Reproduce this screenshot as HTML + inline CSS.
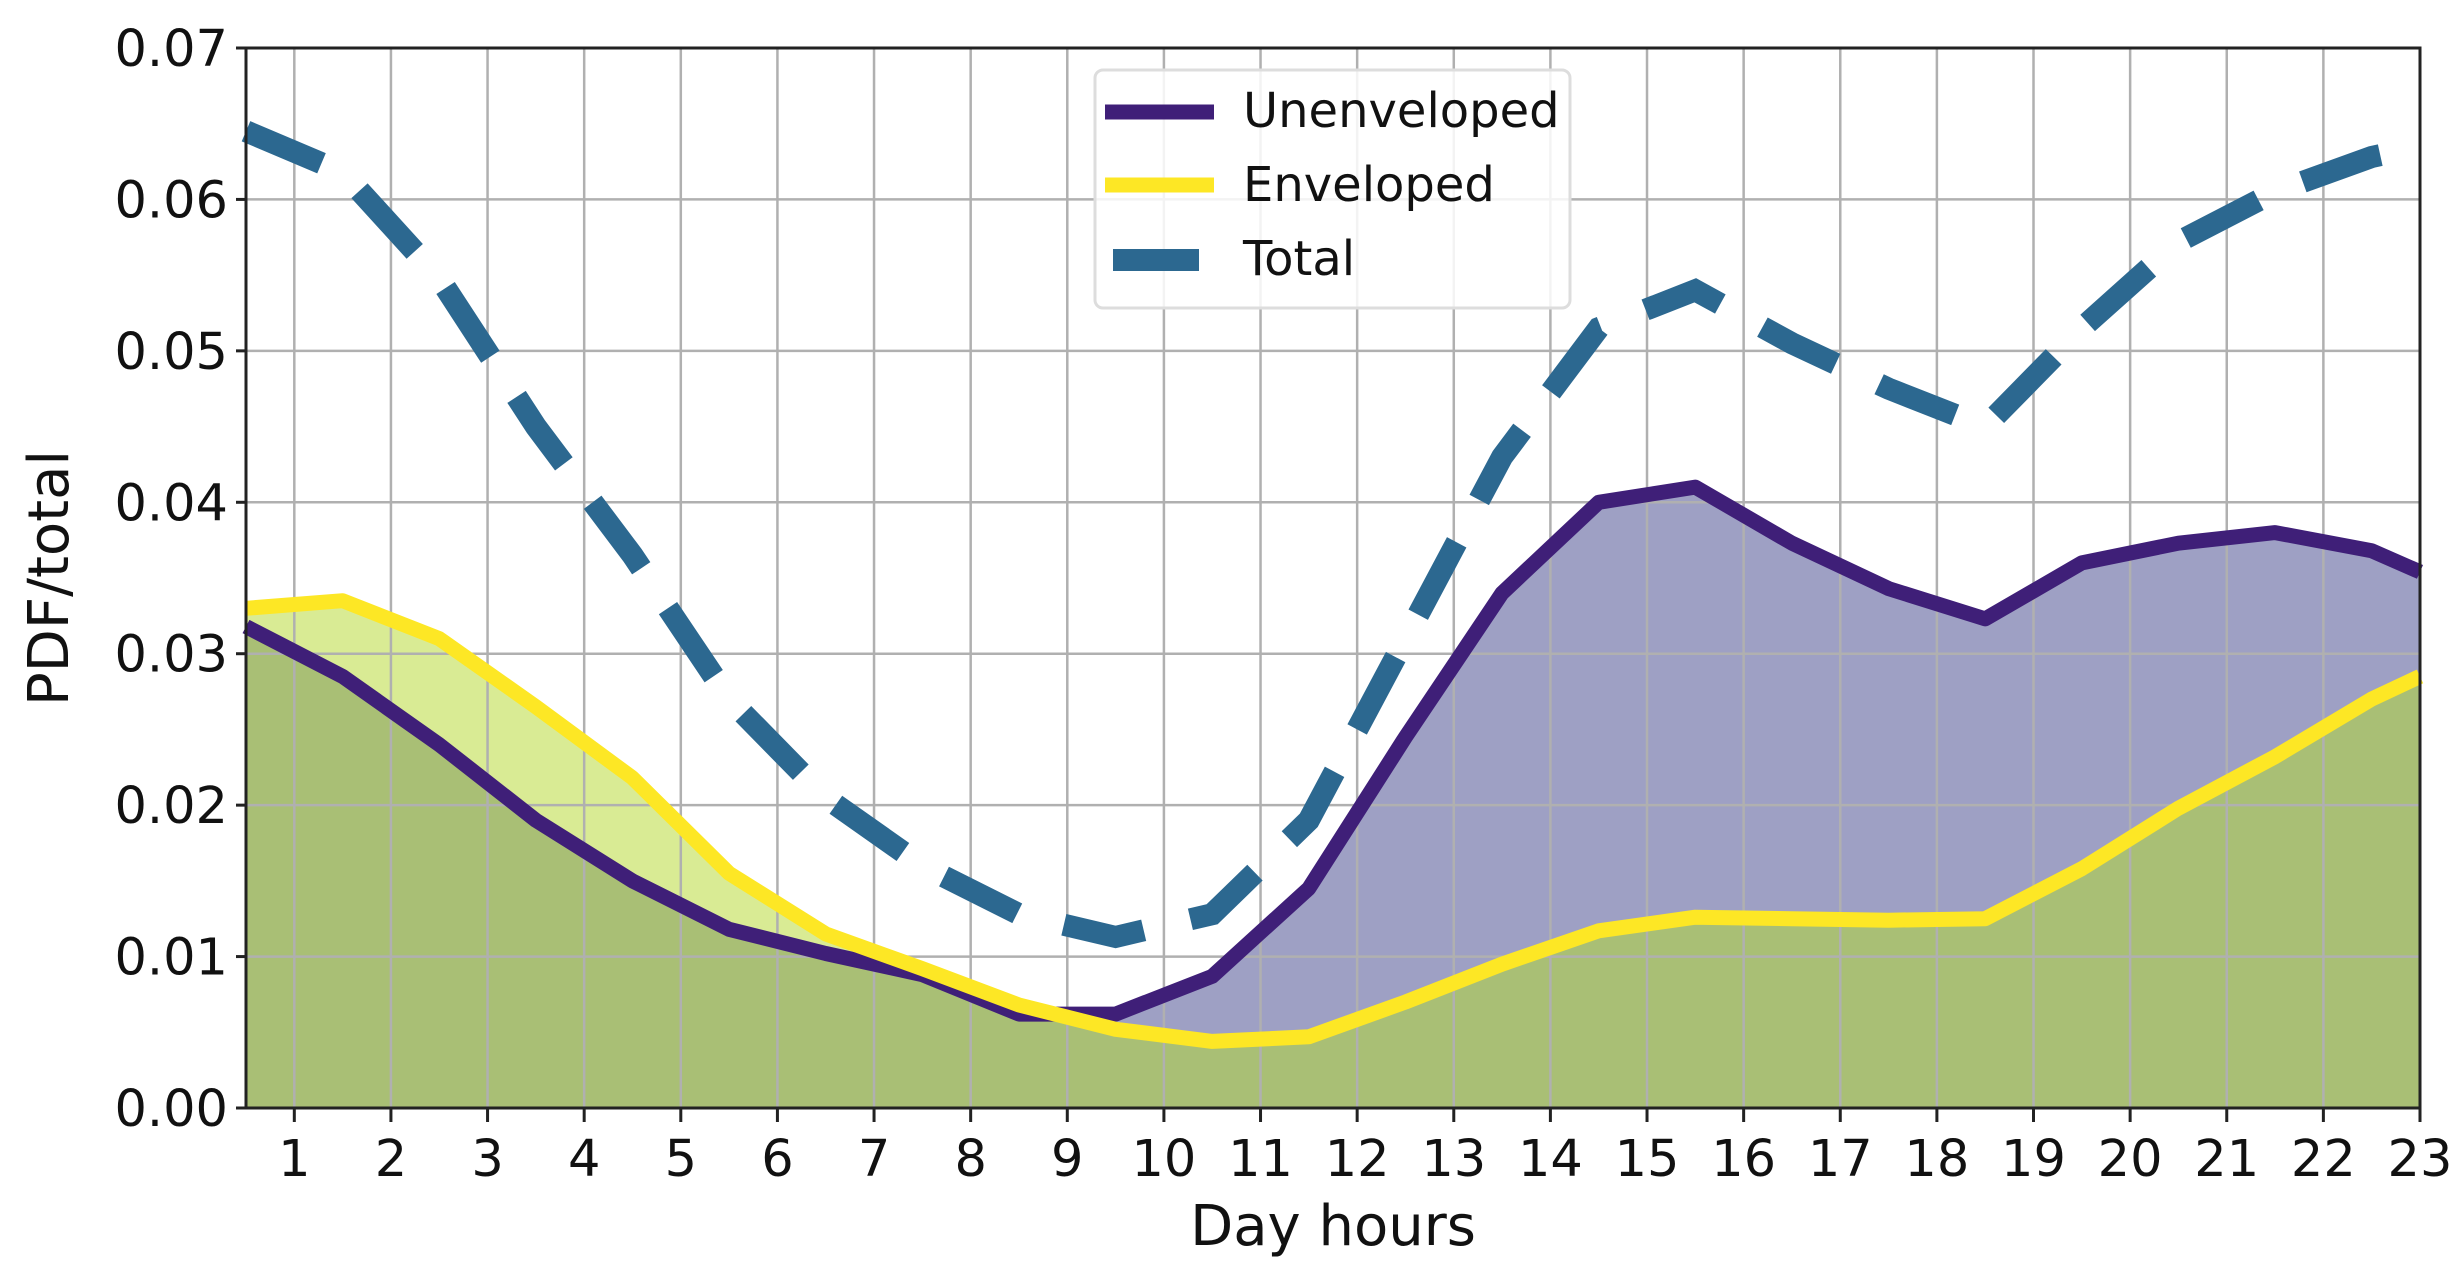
<!DOCTYPE html>
<html><head><meta charset="utf-8"><style>
html,body{margin:0;padding:0;background:#fff;}
svg{display:block;font-family:"DejaVu Sans","Liberation Sans",sans-serif;}
</style></head><body>
<svg id="s" width="2457" height="1275" xmlns="http://www.w3.org/2000/svg"></svg>
<script>
const L=246,R=2420,T=48,B=1108;
const X=h=>L+(h-0.5)*(R-L)/22.5, Y=v=>B-v*(B-T)/0.07;
const xs=[0.5,1.5,2.5,3.5,4.5,5.5,6.5,7.5,8.5,9.5,10.5,11.5,12.5,13.5,14.5,15.5,16.5,17.5,18.5,19.5,20.5,21.5,22.5,23];
const U=[0.0318,0.0285,0.024,0.019,0.015,0.0118,0.0102,0.0088,0.0062,0.0062,0.0087,0.0145,0.0245,0.034,0.040,0.041,0.0373,0.0343,0.0323,0.036,0.0373,0.038,0.0368,0.0354];
const E=[0.0330,0.0335,0.031,0.0265,0.0218,0.0155,0.0115,0.0092,0.0068,0.0052,0.0044,0.0047,0.007,0.0095,0.0117,0.0126,0.0125,0.0124,0.0125,0.0158,0.0198,0.0232,0.027,0.0285];
const Tt=[0.0645,0.0618,0.0548,0.045,0.0365,0.027,0.0205,0.016,0.0128,0.0113,0.0128,0.019,0.031,0.043,0.0515,0.054,0.0505,0.0475,0.045,0.0515,0.0572,0.0605,0.0628,0.0635];
const pts=a=>a.map((v,i)=>X(xs[i]).toFixed(1)+','+Y(v).toFixed(1)).join(' ');
const area=a=>`${X(0.5)},${B} ${pts(a)} ${X(23)},${B}`;
let mp=[];
for(let i=0;i<xs.length;i++){
  mp.push([xs[i],Math.min(U[i],E[i])]);
  if(i<xs.length-1){const d0=U[i]-E[i],d1=U[i+1]-E[i+1];
    if(d0*d1<0){const t=d0/(d0-d1);mp.push([xs[i]+t*(xs[i+1]-xs[i]),U[i]+t*(U[i+1]-U[i])]);}}
}
const minArea=`${X(0.5)},${B} `+mp.map(p=>X(p[0]).toFixed(1)+','+Y(p[1]).toFixed(1)).join(' ')+` ${X(23)},${B}`;
let s='';
s+=`<polygon points="${area(U)}" fill="#9ea0c4"/>`;
s+=`<polygon points="${area(E)}" fill="#d9eb94"/>`;
s+=`<polygon points="${minArea}" fill="#a9bf75"/>`;
for(let h=1;h<=22;h++) s+=`<line x1="${X(h)}" x2="${X(h)}" y1="${T}" y2="${B}" stroke="#b0b0b0" stroke-width="2.5"/>`;
for(let k=1;k<7;k++) s+=`<line x1="${L}" x2="${R}" y1="${Y(k/100)}" y2="${Y(k/100)}" stroke="#b0b0b0" stroke-width="2.5"/>`;
s+=`<polyline points="${pts(U)}" fill="none" stroke="#3f1f78" stroke-width="15" stroke-linejoin="round"/>`;
s+=`<polyline points="${pts(E)}" fill="none" stroke="#fde725" stroke-width="15" stroke-linejoin="round"/>`;
s+=`<polyline points="${pts(Tt)}" fill="none" stroke="#2c6890" stroke-width="22" stroke-dasharray="82,48"/>`;
s+=`<rect x="${L}" y="${T}" width="${R-L}" height="${B-T}" fill="none" stroke="#222" stroke-width="3"/>`;
for(let k=0;k<=7;k++){const y=Y(k/100);
  s+=`<line x1="${L-10}" x2="${L}" y1="${y}" y2="${y}" stroke="#222" stroke-width="3"/>`;
  s+=`<text x="${L-18}" y="${y+18}" font-size="51" text-anchor="end" fill="#111">${(k/100).toFixed(2)}</text>`;}
for(let h=1;h<=23;h++){const x=X(h);
  s+=`<line x1="${x}" x2="${x}" y1="${B}" y2="${B+14}" stroke="#222" stroke-width="3"/>`;
  s+=`<text x="${x}" y="${B+68}" font-size="51" text-anchor="middle" fill="#111">${h}</text>`;}
s+=`<text x="${(L+R)/2}" y="1245" font-size="56" text-anchor="middle" fill="#111">Day hours</text>`;
s+=`<text transform="translate(68,${(T+B)/2}) rotate(-90)" font-size="56" text-anchor="middle" fill="#111">PDF/total</text>`;
s+=`<rect x="1095" y="70" width="475" height="238" rx="8" fill="#fff" fill-opacity="0.85" stroke="#ddd" stroke-width="3"/>`;
s+=`<line x1="1105" x2="1214" y1="112" y2="112" stroke="#3f1f78" stroke-width="15"/>`;
s+=`<line x1="1105" x2="1214" y1="185" y2="185" stroke="#fde725" stroke-width="15"/>`;
s+=`<line x1="1113" x2="1199" y1="260" y2="260" stroke="#2c6890" stroke-width="22"/>`;
s+=`<text x="1243" y="127" font-size="48" fill="#111">Unenveloped</text>`;
s+=`<text x="1243" y="201" font-size="48" fill="#111">Enveloped</text>`;
s+=`<text x="1243" y="275" font-size="48" fill="#111">Total</text>`;
document.getElementById('s').innerHTML=s;
</script>
</body></html>
